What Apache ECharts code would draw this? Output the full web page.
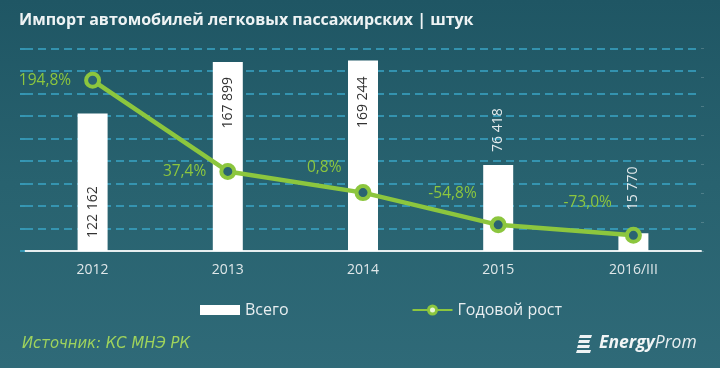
<!DOCTYPE html>
<html>
<head>
<meta charset="utf-8">
<script src="https://cdn.jsdelivr.net/npm/echarts@6/dist/echarts.min.js"></script>
<style>
html,body{margin:0;padding:0;background:#2a6472;}
#c{width:720px;height:368px;}
</style>
</head>
<body>
<div id="c"></div>
<script>
const categories = ['2012', '2013', '2014', '2015', '2016/III'];
const totals = [122162, 167899, 169244, 76418, 15770];
const growth = [194.8, 37.4, 0.8, -54.8, -73.0];
const seriesNames = ['Всего', 'Годовой рост'];

const fmtNum = v => String(v).replace(/\B(?=(\d{3})+(?!\d))/g, ' ');
const fmtPct = v => v.toFixed(1).replace('.', ',') + '%';

// label placement per bar (inside/outside)
const barLabelCfg = [
  {position: 'insideBottom', align: 'left', distance: 13, color: '#333'},
  {position: 'insideTop', align: 'right', distance: 15, color: '#333'},
  {position: 'insideTop', align: 'right', distance: 16, color: '#333'},
  {position: 'top', align: 'left', distance: 13, color: '#e4eaec'},
  {position: 'top', align: 'left', distance: 23, color: '#e4eaec'}
];
const lineLabelOffset = [[0, 0], [0, 0], [0, -25], [0, -31], [0, -33]];

const chart = echarts.init(document.getElementById('c'), null, {renderer: 'canvas'});
const GREEN = '#8cc63e';
const option = {
  backgroundColor: {
    type: 'linear', x: 0, y: 0, x2: 0, y2: 1,
    colorStops: [{offset: 0, color: '#1f5664'}, {offset: 0.5, color: '#28626f'}, {offset: 1, color: '#2f6a78'}]
  },
  animation: false,
  title: {
    text: 'Импорт автомобилей легковых пассажирских | штук',
    left: 14, top: 7,
    textStyle: {color: '#eef3f4', fontSize: 16, fontWeight: 'bold', fontFamily: 'Open Sans'}
  },
  legend: {
    left: 195, top: 297,
    itemWidth: 40, itemHeight: 10, itemGap: 123,
    textStyle: {color: '#e8eef0', fontSize: 16, fontFamily: 'Open Sans'},
    data: [
      {name: seriesNames[0], icon: 'rect', itemStyle: {color: '#ffffff'}},
      {name: seriesNames[1], itemStyle: {color: '#e8f5d8', borderColor: GREEN, borderWidth: 3}}
    ]
  },
  grid: {left: 25, right: 19, top: 48.3, bottom: 117, containLabel: false},
  xAxis: {
    type: 'category', data: categories,
    axisLine: {lineStyle: {color: '#e6eef0', width: 2}},
    axisTick: {show: false},
    axisLabel: {color: '#dfe7e9', fontSize: 14, margin: 12, fontFamily: 'Open Sans'}
  },
  yAxis: [
    {
      type: 'value', min: 0, max: 180000, interval: 20000,
      axisLine: {show: false},
      axisTick: {show: true, length: 5, lineStyle: {color: '#3aa5c6', width: 1.6}},
      axisLabel: {show: false},
      splitLine: {lineStyle: {color: '#3aa5c6', type: [8, 5], width: 1.6}}
    },
    {
      type: 'value', min: -100, max: 250, interval: 50,
      axisLine: {show: false},
      axisTick: {show: true, length: 3, inside: false, lineStyle: {color: 'rgba(255,255,255,0.18)'}},
      axisLabel: {show: false},
      splitLine: {show: false}
    }
  ],
  series: [
    {
      name: seriesNames[0], type: 'bar', barWidth: 30, yAxisIndex: 0,
      itemStyle: {color: '#ffffff'},
      data: totals.map((v, i) => ({
        value: v,
        label: {
          show: true, rotate: 90, verticalAlign: 'middle',
          position: barLabelCfg[i].position, align: barLabelCfg[i].align,
          distance: barLabelCfg[i].distance, color: barLabelCfg[i].color,
          fontSize: 14, fontFamily: 'Open Sans',
          formatter: p => fmtNum(p.value)
        }
      }))
    },
    {
      name: seriesNames[1], type: 'line', yAxisIndex: 1,
      symbol: 'circle', symbolSize: 13,
      lineStyle: {color: GREEN, width: 4.5},
      itemStyle: {color: '#2a6372', borderColor: GREEN, borderWidth: 4},
      z: 5,
      data: growth.map((v, i) => ({
        value: v,
        label: {
          show: true, position: 'left', distance: 13,
          offset: lineLabelOffset[i],
          color: GREEN, fontSize: 15.5, fontFamily: 'Open Sans',
          formatter: p => fmtPct(p.value)
        }
      }))
    }
  ],
  graphic: [
    {
      type: 'text', left: 22, top: 335,
      style: {text: 'Источник: КС МНЭ РК', fill: '#9fd35c', font: 'italic 16.5px "Liberation Sans Narrow", "DejaVu Sans Condensed", sans-serif'}
    },
    {
      type: 'group', left: 576, top: 335,
      children: [
        {type: 'polygon', shape: {points: [[4, 0], [16, 0], [15, 3], [3, 3]]}, style: {fill: '#eef3f4'}},
        {type: 'polygon', shape: {points: [[3, 5], [14, 5], [13, 8], [2, 8]]}, style: {fill: '#eef3f4'}},
        {type: 'polygon', shape: {points: [[2, 10], [14, 10], [13, 13], [1, 13]]}, style: {fill: '#eef3f4'}},
        {type: 'polygon', shape: {points: [[1, 15], [15, 15], [14, 18], [0, 18]]}, style: {fill: '#eef3f4'}}
      ]
    },
    {
      type: 'text', left: 599, top: 334,
      style: {
        text: '{a|Energy}{b|Prom}',
        rich: {
          a: {fill: '#f2f5f6', font: 'italic bold 17.5px "Open Sans", sans-serif'},
          b: {fill: '#e8eef0', font: 'italic 17.5px "Open Sans", sans-serif'}
        }
      }
    }
  ]
};
chart.setOption(option);
</script>
</body>
</html>
